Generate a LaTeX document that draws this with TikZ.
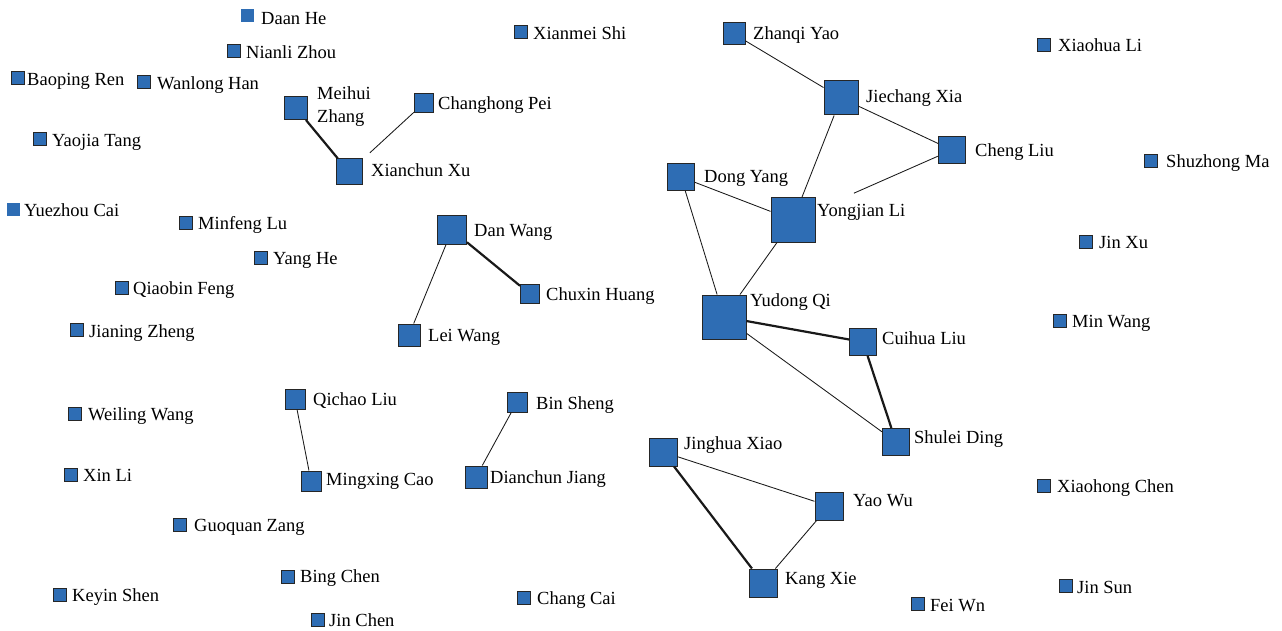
\documentclass[tikz,border=0pt]{standalone}
\usepackage{fontspec}
\setmainfont{Liberation Serif}
\definecolor{nodeblue}{RGB}{46,109,180}
\begin{document}
\begin{tikzpicture}[x=1pt,y=-1pt,
  box/.style={draw=black!85,line width=1pt,fill=nodeblue,minimum size=#1,inner sep=0pt},
  plainbox/.style={fill=nodeblue,minimum size=#1,inner sep=0pt},
  lab/.style={anchor=west,inner sep=0pt,yshift=-3pt,font=\fontsize{18.5}{21}\selectfont,text height=0.66em,text depth=0pt},
  weak/.style={line width=0.85pt,black!90},
  strong/.style={line width=2.2pt,black!90}]
\fill[white] (0,0) rectangle (1282,631);
\useasboundingbox (0,0) rectangle (1282,631);
% nodes
\node[plainbox=13pt] (daan) at (247,16) {};
\node[box=13pt] (nianli) at (234,51) {};
\node[box=13pt] (baoping) at (18,78) {};
\node[box=13pt] (wanlong) at (144,82) {};
\node[box=13pt] (yaojia) at (40,139) {};
\node[plainbox=13pt] (yuezhou) at (13,210) {};
\node[box=13pt] (minfeng) at (186,223) {};
\node[box=13pt] (yanghe) at (261,258) {};
\node[box=13pt] (qiaobin) at (122,288) {};
\node[box=13pt] (jianing) at (77,330) {};
\node[box=13pt] (weiling) at (75,414) {};
\node[box=13pt] (xinli) at (71,475) {};
\node[box=13pt] (guoquan) at (180,525) {};
\node[box=13pt] (keyin) at (60,595) {};
\node[box=13pt] (bingchen) at (288,577) {};
\node[box=13pt] (jinchen) at (318,620) {};
\node[box=13pt] (changcai) at (524,598) {};
\node[box=13pt] (xianmei) at (521,32) {};
\node[box=13pt] (feiwn) at (918,604) {};
\node[box=13pt] (jinsun) at (1066,586) {};
\node[box=13pt] (xiaohong) at (1044,486) {};
\node[box=13pt] (minwang) at (1060,321) {};
\node[box=13pt] (jinxu) at (1086,242) {};
\node[box=13pt] (shuzhong) at (1151,161) {};
\node[box=13pt] (xiaohua) at (1044,45) {};
\node[box=23pt] (meihui) at (296,108) {};
\node[box=19pt] (changhong) at (424,103) {};
\node[box=26pt] (xianchun) at (349,172) {};
\node[box=29pt] (danwang) at (452,230) {};
\node[box=19pt] (chuxin) at (530,294) {};
\node[box=22pt] (leiwang) at (409,335) {};
\node[box=20pt] (qichao) at (295,399) {};
\node[box=20pt] (mingxing) at (311,481) {};
\node[box=20pt] (binsheng) at (517,402) {};
\node[box=22pt] (dianchun) at (476,477) {};
\node[box=22pt] (zhanqi) at (734,34) {};
\node[box=34pt] (jiechang) at (841,98) {};
\node[box=27pt] (chengliu) at (952,150) {};
\node[box=27pt] (dongyang) at (681,177) {};
\node[box=44pt] (yongjian) at (793,220) {};
\node[box=44pt] (yudong) at (724,317) {};
\node[box=27pt] (cuihua) at (863,342) {};
\node[box=27pt] (shulei) at (896,442) {};
\node[box=28pt] (jinghua) at (663,452) {};
\node[box=28pt] (yaowu) at (829,506) {};
\node[box=28pt] (kangxie) at (763,583) {};
% edges
\draw[strong] (meihui) -- (xianchun);
\draw[weak,shorten >=10pt] (changhong) -- (xianchun);
\draw[strong] (danwang) -- (chuxin);
\draw[weak] (danwang) -- (leiwang);
\draw[weak] (qichao) -- (mingxing);
\draw[weak] (binsheng) -- (dianchun);
\draw[weak] (zhanqi) -- (jiechang);
\draw[weak] (jiechang) -- (chengliu);
\draw[weak] (jiechang) -- (yongjian);
\draw[weak,shorten >=42pt] (chengliu) -- (yongjian);
\draw[weak] (dongyang) -- (yongjian);
\draw[weak] (dongyang) -- (yudong);
\draw[weak] (yongjian) -- (yudong);
\draw[strong] (yudong) -- (cuihua);
\draw[weak] (yudong) -- (shulei);
\draw[strong] (cuihua) -- (shulei);
\draw[weak] (jinghua) -- (yaowu);
\draw[strong] (jinghua) -- (kangxie);
\draw[weak] (yaowu) -- (kangxie);
% labels
\node[lab] (l1) at (261,18) {Daan He};
\node[lab] (l2) at (246,52) {Nianli Zhou};
\node[lab] (l3) at (27,79) {Baoping Ren};
\node[lab] (l4) at (157,83) {Wanlong Han};
\node[anchor=west,inner sep=0pt,align=left,font=\fontsize{18.5}{23}\selectfont] (l5) at (317,107) {Meihui\\Zhang};
\node[lab] (l6) at (438,103) {Changhong Pei};
\node[lab] (l7) at (52,140) {Yaojia Tang};
\node[lab] (l8) at (371,170) {Xianchun Xu};
\node[lab] (l9) at (24,210) {Yuezhou Cai};
\node[lab] (l10) at (198,223) {Minfeng Lu};
\node[lab] (l11) at (273,258) {Yang He};
\node[lab] (l12) at (474,230) {Dan Wang};
\node[lab] (l13) at (546,294) {Chuxin Huang};
\node[lab] (l14) at (428,335) {Lei Wang};
\node[lab] (l15) at (133,288) {Qiaobin Feng};
\node[lab] (l16) at (89,331) {Jianing Zheng};
\node[lab] (l17) at (88,414) {Weiling Wang};
\node[lab] (l18) at (83,475) {Xin Li};
\node[lab] (l19) at (313,399) {Qichao Liu};
\node[lab] (l20) at (326,479) {Mingxing Cao};
\node[lab] (l21) at (536,403) {Bin Sheng};
\node[lab] (l22) at (490,477) {Dianchun Jiang};
\node[lab] (l23) at (194,525) {Guoquan Zang};
\node[lab] (l24) at (72,595) {Keyin Shen};
\node[lab] (l25) at (300,576) {Bing Chen};
\node[lab] (l26) at (329,620) {Jin Chen};
\node[lab] (l27) at (537,598) {Chang Cai};
\node[lab] (l28) at (533,33) {Xianmei Shi};
\node[lab] (l29) at (753,33) {Zhanqi Yao};
\node[lab] (l30) at (866,96) {Jiechang Xia};
\node[lab] (l31) at (975,150) {Cheng Liu};
\node[lab] (l32) at (704,176) {Dong Yang};
\node[lab] (l33) at (817,210) {Yongjian Li};
\node[lab] (l34) at (750,300) {Yudong Qi};
\node[lab] (l35) at (882,338) {Cuihua Liu};
\node[lab] (l36) at (914,437) {Shulei Ding};
\node[lab] (l37) at (684,443) {Jinghua Xiao};
\node[lab] (l38) at (853,500) {Yao Wu};
\node[lab] (l39) at (785,578) {Kang Xie};
\node[lab] (l40) at (930,605) {Fei Wn};
\node[lab] (l41) at (1077,587) {Jin Sun};
\node[lab] (l42) at (1057,486) {Xiaohong Chen};
\node[lab] (l43) at (1072,321) {Min Wang};
\node[lab] (l44) at (1099,242) {Jin Xu};
\node[lab] (l45) at (1166,161) {Shuzhong Ma};
\node[lab] (l46) at (1058,45) {Xiaohua Li};
\end{tikzpicture}
\end{document}
